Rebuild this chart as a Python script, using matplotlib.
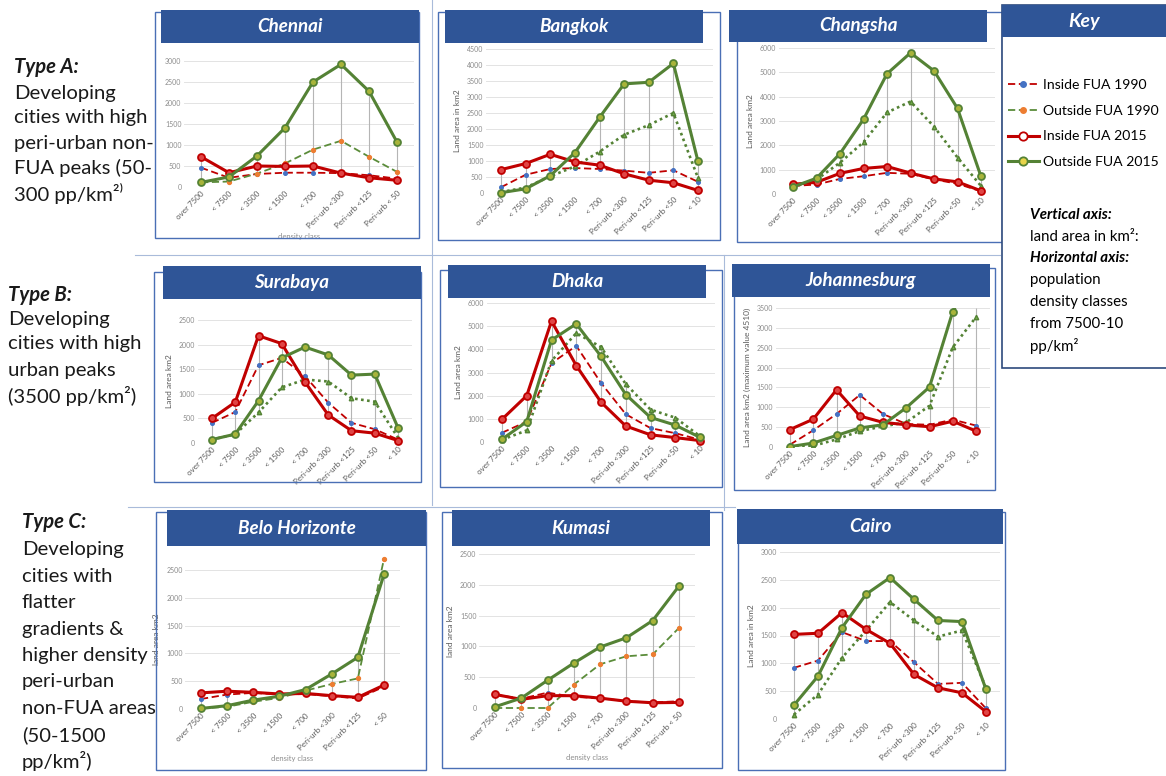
import matplotlib
matplotlib.use('Agg')
import matplotlib.pyplot as plt
from matplotlib.patches import Rectangle
from matplotlib.lines import Line2D

W, H = 1166, 776

# density classes
cats9 = ["over 7500", "< 7500", "< 3500", "< 1500", "< 700",
         "Peri-urb <300", "Peri-urb <125", "Peri-urb <50", "< 10"]
cats_chennai = ["over 7500", "< 7500", "< 3500", "< 1500", "< 700",
                "Peri-urb <300", "Peri-urb <125", "Peri-urb < 50"]
cats_belo = ["over 7500", "< 7500", "< 3500", "< 1500", "< 700",
             "Peri-urb <300", "Peri-urb <125", "< 50"]
cats_kumasi = ["over 7500", "< 7500", "< 3500", "< 1500", "< 700",
               "Peri-urb <300", "Peri-urb <125", "Peri-urb < 50"]

# land area km2: inside FUA 1990, outside FUA 1990, inside FUA 2015, outside FUA 2015
chennai_in90 = [460, 220, 310, 340, 340, 330, 280, 200]
chennai_out90 = [110, 130, 320, 560, 890, 1100, 720, 360]
chennai_in15 = [720, 340, 500, 490, 500, 330, 220, 160]
chennai_out15 = [110, 240, 740, 1410, 2500, 2920, 2280, 1070]

bangkok_in90 = [180, 570, 750, 780, 750, 700, 630, 710, 350]
bangkok_out90 = [30, 170, 520, 830, 1290, 1820, 2120, 2500, 470]
bangkok_in15 = [730, 920, 1210, 970, 870, 600, 400, 320, 80]
bangkok_out15 = [10, 130, 540, 1260, 2360, 3410, 3460, 4050, 990]

changsha_in90 = [330, 390, 620, 730, 870, 830, 600, 420, 110]
changsha_out90 = [300, 590, 1290, 2130, 3350, 3800, 2770, 1500, 330]
changsha_in15 = [400, 480, 850, 1050, 1130, 860, 620, 500, 130]
changsha_out15 = [290, 650, 1660, 3070, 4940, 5800, 5060, 3520, 720]

surabaya_in90 = [410, 630, 1580, 1730, 1360, 820, 410, 280, 70]
surabaya_out90 = [70, 180, 620, 1130, 1290, 1250, 910, 840, 110]
surabaya_in15 = [500, 830, 2180, 2020, 1240, 570, 250, 200, 50]
surabaya_out15 = [70, 180, 860, 1730, 1950, 1790, 1380, 1400, 310]

dhaka_in90 = [400, 880, 3400, 4150, 2550, 1200, 600, 380, 100]
dhaka_out90 = [100, 500, 3500, 4700, 4100, 2500, 1400, 1050, 250]
dhaka_in15 = [980, 2000, 5220, 3300, 1720, 690, 310, 190, 60]
dhaka_out15 = [120, 880, 4400, 5100, 3700, 2050, 1060, 730, 200]

joburg_in90 = [60, 420, 830, 1310, 830, 580, 560, 690, 540]
joburg_out90 = [10, 30, 190, 400, 520, 620, 1040, 2510, 3270]
joburg_in15 = [440, 700, 1440, 780, 620, 560, 510, 650, 400]
joburg_out15 = [10, 100, 290, 480, 560, 990, 1510, 3410, 4510]

belo_in90 = [180, 260, 290, 260, 270, 230, 190, 400]
belo_out90 = [10, 40, 130, 200, 330, 450, 550, 2700]
belo_in15 = [290, 320, 300, 270, 280, 240, 210, 430]
belo_out15 = [10, 60, 160, 230, 350, 630, 930, 2420]

kumasi_in90 = [220, 150, 250, 180, 160, 110, 90, 110]
kumasi_out90 = [0, 0, 0, 380, 710, 840, 870, 1300]
kumasi_in15 = [220, 140, 200, 200, 160, 110, 85, 90]
kumasi_out15 = [20, 160, 450, 730, 990, 1140, 1420, 1980]

cairo_in90 = [920, 1050, 1560, 1400, 1400, 1020, 630, 650, 190]
cairo_out90 = [80, 440, 1100, 1590, 2100, 1770, 1480, 1590, 560]
cairo_in15 = [1520, 1540, 1910, 1610, 1360, 800, 560, 470, 130]
cairo_out15 = [250, 770, 1640, 2240, 2540, 2150, 1770, 1750, 530]

key_labels = ["Inside FUA 1990", "Outside FUA 1990", "Inside FUA 2015", "Outside FUA 2015"]

RED = '#C00000'
GREEN = '#548235'
BANNER = '#2F5597'
EDGE = '#4A6FB5'
FONT = ['Lato', 'DejaVu Sans']

plt.rcParams['font.family'] = FONT


def fig_rect(fig, x0, y0, x1, y1, **kw):
    r = Rectangle((x0 / W, 1 - y1 / H), (x1 - x0) / W, (y1 - y0) / H,
                  transform=fig.transFigure, **kw)
    fig.patches.append(r)


def fig_line(fig, xs, ys, **kw):
    fig.lines.append(Line2D([x / W for x in xs], [1 - y / H for y in ys],
                            transform=fig.transFigure, **kw))


def style(kind, dotted):
    if kind == 'in90':
        return dict(color=RED, ls=(0, (4, 2)), lw=1.3, marker='o', ms=2.6,
                    mfc='#4472C4', mec='#4472C4')
    if kind == 'out90':
        if dotted:
            return dict(color=GREEN, ls=(0, (1, 1.3)), lw=1.9, marker='^', ms=3.2,
                        mfc='#70AD47', mec=GREEN)
        return dict(color='#5B8C3A', ls=(0, (4, 2)), lw=1.3, marker='o', ms=2.8,
                    mfc='#ED7D31', mec='#ED7D31')
    if kind == 'in15':
        return dict(color=RED, ls='-', lw=2.2, marker='o', ms=5,
                    mfc='#E04545', mec=RED, mew=1.3)
    return dict(color=GREEN, ls='-', lw=2.2, marker='o', ms=5,
                mfc='#A8B43A', mec=GREEN, mew=1.3)


def panel(fig, title, cats, in90, out90, in15, out15, ymax, ystep, ylabel, xlabel,
          box, banner, plot, dotted=True, clip=False):
    fig_rect(fig, *box, fill=False, edgecolor=EDGE, lw=1.0, zorder=1)
    fig_rect(fig, *banner, facecolor=BANNER, edgecolor='none', zorder=2)
    fig.text((banner[0] + banner[2]) / 2 / W, 1 - (banner[1] + banner[3]) / 2 / H, title,
             color='white', fontsize=13.5, fontweight='bold', fontstyle='italic',
             ha='center', va='center', zorder=3)

    x_first, x_last, y_top, y_zero = plot
    n = len(cats)
    step = (x_last - x_first) / (n - 1)
    left = x_first - 0.6 * step
    right = x_last + 0.6 * step
    ax = fig.add_axes([left / W, 1 - y_zero / H, (right - left) / W, (y_zero - y_top) / H])
    ax.set_facecolor('none')
    ax.set_xlim(-0.6, n - 0.4)
    ax.set_ylim(0, ymax)
    for s in ax.spines.values():
        s.set_visible(False)
    ticks = list(range(0, ymax + 1, ystep))
    ax.set_yticks(ticks)
    ax.set_yticklabels([str(t) for t in ticks], fontsize=5, color='#8C8C8C')
    ax.yaxis.grid(True, color='#E3E3E3', lw=0.7)
    ax.set_axisbelow(True)
    ax.set_xticks(range(n))
    ax.set_xticklabels(cats, rotation=45, ha='right', rotation_mode='anchor',
                       fontsize=5.8, color='#595959')
    ax.tick_params(length=0, pad=2)
    if ylabel:
        ax.set_ylabel(ylabel, fontsize=6, color='#595959', labelpad=4)
    if xlabel:
        ax.set_xlabel(xlabel, fontsize=5.5, color='#8C8C8C', labelpad=2)

    xs = list(range(n))
    for i in xs:
        vals = [in90[i], out90[i], in15[i], out15[i]]
        ax.vlines(i, min(vals), min(max(vals), ymax), color='#B5B5B5', lw=0.8, zorder=1)
    for kind, vals in (('in90', in90), ('out90', out90), ('in15', in15), ('out15', out15)):
        ax.plot(xs, vals, clip_on=clip, zorder=3, **style(kind, dotted))
    return ax


fig = plt.figure(figsize=(W / 100, H / 100), dpi=100)
fig.patch.set_facecolor('white')

# separator lines
sep = dict(color='#A9BBDA', lw=0.8, zorder=0.5)
fig_line(fig, [135, 1000], [255, 255], **sep)
fig_line(fig, [128, 735], [507, 507], **sep)
fig_line(fig, [432, 432], [0, 505], **sep)
fig_line(fig, [724, 724], [255, 510], **sep)

panel(fig, "Chennai", cats_chennai, chennai_in90, chennai_out90, chennai_in15, chennai_out15,
      3000, 500, None, "density class",
      (155, 12, 419, 238), (161, 10, 419, 43), (201, 397, 61, 187), dotted=False)
panel(fig, "Bangkok", cats9, bangkok_in90, bangkok_out90, bangkok_in15, bangkok_out15,
      4500, 500, "Land area in km2", None,
      (438, 12, 720, 240), (445, 10, 703, 43), (501, 698, 49, 193))
panel(fig, "Changsha", cats9, changsha_in90, changsha_out90, changsha_in15, changsha_out15,
      6000, 1000, "Land area km2", None,
      (737, 12, 1002, 242), (729, 10, 987, 42), (793, 981, 48, 194))
panel(fig, "Surabaya", cats9, surabaya_in90, surabaya_out90, surabaya_in15, surabaya_out15,
      2500, 500, "Land area km2", None,
      (154, 272, 421, 482), (163, 266, 421, 299), (212, 398, 320, 443))
panel(fig, "Dhaka", cats9, dhaka_in90, dhaka_out90, dhaka_in15, dhaka_out15,
      6000, 1000, "Land area km2", None,
      (440, 270, 722, 487), (448, 265, 706, 298), (502, 700, 303, 442))
panel(fig, "Johannesburg", cats9, joburg_in90, joburg_out90, joburg_in15, joburg_out15,
      3500, 500, "Land area km2 (maximum value 4510)", None,
      (734, 268, 995, 490), (732, 264, 990, 297), (790, 976, 308, 447), clip=True)
panel(fig, "Belo Horizonte", cats_belo, belo_in90, belo_out90, belo_in15, belo_out15,
      2500, 500, "land area km2", "density class",
      (156, 512, 426, 770), (167, 510, 426, 546), (201, 384, 570, 709), dotted=False)
panel(fig, "Kumasi", cats_kumasi, kumasi_in90, kumasi_out90, kumasi_in15, kumasi_out15,
      2500, 500, "land area km2", "density class",
      (442, 512, 722, 768), (452, 510, 710, 546), (495, 679, 554, 708), dotted=False)
panel(fig, "Cairo", cats9, cairo_in90, cairo_out90, cairo_in15, cairo_out15,
      3000, 500, "Land area in km2", None,
      (738, 512, 1005, 770), (737, 509, 1003, 544), (794, 986, 552, 719))

# key box
fig_rect(fig, 1002, 5, 1170, 368, facecolor='white', edgecolor='#2E4A7D', lw=1.2, zorder=4)
fig_rect(fig, 1002, 5, 1170, 37, facecolor=BANNER, edgecolor='none', zorder=5)
fig.text(1084 / W, 1 - 21 / H, "Key", color='white', fontsize=14, fontweight='bold',
         fontstyle='italic', ha='center', va='center', zorder=6)


def key_style(kind):
    st = style(kind, False)
    if kind in ('in15', 'out15'):
        st.update(ms=6, mfc='white' if kind == 'in15' else '#E8D44A')
    else:
        st.update(ms=4)
    return st


handles = [Line2D([], [], **key_style(k)) for k in ('in90', 'out90', 'in15', 'out15')]
leg = fig.legend(handles, key_labels, loc='upper left', bbox_to_anchor=(1008 / W, 1 - 79 / H),
                 frameon=False, fontsize=10.1, handlelength=2.2, handletextpad=0.3,
                 labelspacing=0.98, borderaxespad=0, borderpad=0, numpoints=1)
leg.set_zorder(6)

key_lines = [("Vertical axis:", True, 215), ("land area in km²:", False, 237),
             ("Horizontal axis:", True, 258), ("population", False, 280),
             ("density classes", False, 302), ("from 7500-10", False, 324),
             ("pp/km²", False, 346)]
for txt, bold, y in key_lines:
    fig.text(1030 / W, 1 - y / H, txt, fontsize=10.8, ha='left', va='center', zorder=6,
             fontweight='bold' if bold else 'normal', fontstyle='italic' if bold else 'normal')

# type descriptions on the left
type_blocks = [
    (14, [67, 93, 118, 143, 168, 193],
     ["Type A:", "Developing", "cities with high", "peri-urban non-", "FUA peaks (50-", "300 pp/km²⁾"]),
    (8, [295, 319, 344, 370, 396],
     ["Type B:", "Developing", "cities with high", "urban peaks", "(3500 pp/km²)"]),
    (22, [522, 549, 576, 602, 629, 655, 682, 709, 735, 761],
     ["Type C:", "Developing", "cities with", "flatter", "gradients &", "higher density",
      "peri-urban", "non-FUA areas", "(50-1500", "pp/km²)"]),
]
for x, ys, lines in type_blocks:
    for k, (y, txt) in enumerate(zip(ys, lines)):
        fig.text(x / W, 1 - y / H, txt, fontsize=14.6, ha='left', va='center', color='#1A1A1A',
                 fontweight='bold' if k == 0 else 'normal',
                 fontstyle='italic' if k == 0 else 'normal', zorder=6)

fig.savefig('out.png', dpi=100)
